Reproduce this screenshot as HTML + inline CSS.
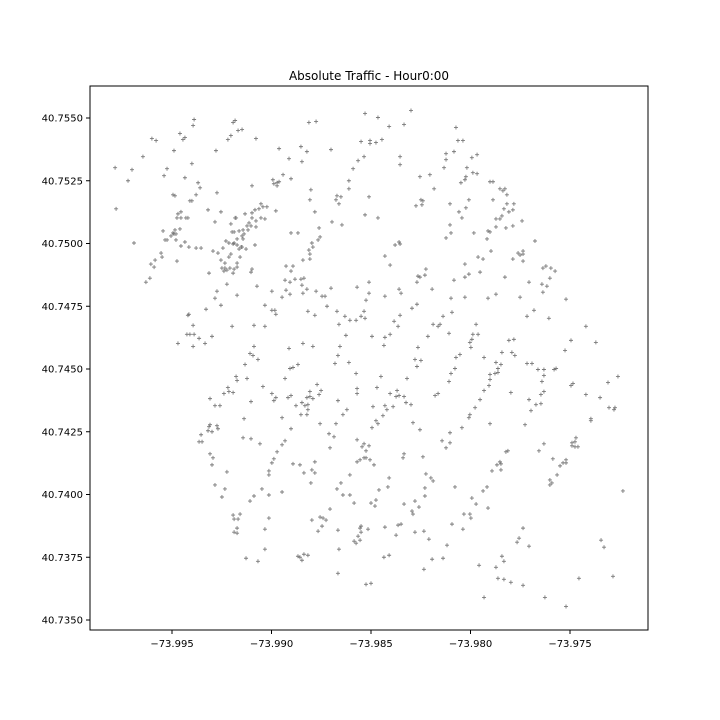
<!DOCTYPE html>
<html><head><meta charset="utf-8"><style>
html,body{margin:0;padding:0;background:#fff}
svg{display:block}
text{font-family:"DejaVu Sans","Liberation Sans",sans-serif;fill:#000}
</style></head><body>
<svg id="chart" width="720" height="720" viewBox="0 0 720 720" xmlns="http://www.w3.org/2000/svg">
<rect width="720" height="720" fill="#fff"/>
<text x="369" y="80" font-size="12" text-anchor="middle">Absolute Traffic - Hour0:00</text>
<g id="points"></g>
<g id="axes"></g>
</svg>
<script>
// longitude offsets in milli-degrees east of -74.000
const lonOffsets = [14.70,6.11,6.06,8.17,8.07,8.32,8.52,5.40,3.99,4.20,5.55,5.65,7.81,7.96,9.22,11.88,12.24,7.21,5.10,3.54,10.38,11.48,11.78,11.53,10.88,12.99,14.50,14.65,14.35,14.10,2.14,2.99,4.75,6.00,4.60,2.79,5.65,6.31,6.41,10.58,10.98,10.07,10.28,10.38,10.12,10.28,9.02,13.89,13.89,7.26,6.21,5.05,5.15,5.90,6.00,2.19,6.81,7.46,11.98,11.93,13.29,13.49,13.24,13.39,14.90,12.18,14.70,10.22,
9.47,9.57,9.77,9.37,9.17,9.02,8.67,9.02,9.47,9.67,8.17,8.22,8.87,9.22,8.97,8.77,9.22,8.82,8.57,8.02,8.12,8.37,8.62,8.52,8.27,8.57,7.96,7.71,7.86,8.12,8.27,8.07,8.47,8.52,8.37,8.72,7.96,7.86,8.42,7.56,7.31,7.16,7.46,7.66,7.66,7.51,7.76,7.91,8.12,8.27,8.07,7.61,7.06,8.27,9.17,
5.45,5.30,5.45,5.70,5.80,5.25,4.55,5.15,5.40,5.05,5.10,4.95,5.20,4.65,4.75,5.20,5.65,5.45,5.85,6.21,6.46,3.09,4.45,4.50,4.15,5.25,3.94,4.10,3.89,3.69,6.86,9.02,8.97,7.76,7.26,7.16,8.27,9.27,7.46,6.71,5.85,5.80,6.06,5.75,5.90,6.11,6.36,7.01,5.30,6.06,6.66,8.02,9.12,9.67,9.12,8.92,9.07,9.67,10.02,10.17,10.22,10.02,10.53,10.73,11.08,10.98,10.68,10.93,11.18,11.48,11.63,11.53,10.73,10.93,11.58,11.78,12.24,12.54,12.69,12.99,12.79,11.83,12.18,10.98,11.33,12.39,12.44,12.34,12.03,12.08,11.88,11.93,11.93,11.58,13.04,13.54,13.29,13.69,13.39,13.94,14.25,14.50,14.70,14.65,14.30,14.75,14.90,10.88,11.58,12.08,13.74,13.44,13.34,
17.01,15.35,15.91,16.66,19.27,14.95,14.95,15.25,15.55,19.37,19.62,16.46,16.46,18.77,18.77,19.17,18.67,20.07,20.33,19.82,20.12,20.33,19.77,19.72,19.52,17.46,17.96,18.17,15.35,17.51,17.61,17.56,17.26,18.97,19.92,19.77,19.42,19.57,20.98,21.13,21.48,21.63,21.73,21.83,21.13,21.83,22.18,21.68,22.13,21.93,21.58,21.28,21.48,21.28,21.78,22.13,22.59,18.97,19.02,18.77,20.17,20.88,20.98,20.83,21.03,23.24,16.21,16.46,16.41,15.70,15.96,20.38,20.63,19.72,22.39,22.64,22.49,22.64,22.13,22.64,23.64,23.79,24.04,24.25,23.99,22.94,23.59,23.84,23.64,24.80,21.73,17.76,17.36,17.46,17.71,17.31,19.17,19.72,19.92,20.48,14.90,16.41,16.51,15.70,18.07,19.02,19.72,20.88,21.28,22.49,17.31,17.06,16.46,16.16,16.36,15.05,15.70,15.96,15.65,17.36,17.86,18.12,18.37,18.47,18.62,19.07,18.92,20.28,20.12,20.38,20.07,19.97,20.02,19.27,19.47,20.68,21.58,22.08,22.23,21.93,22.18,22.84,23.19,23.94,24.75,25.05,25.80,26.30,
8.67,9.32,8.22,8.27,8.77,7.81,7.86,7.61,8.07,6.91,7.16,7.41,8.97,9.57,8.62,6.91,6.86,7.26,7.31,6.81,7.01,6.46,6.36,6.51,8.57,8.97,9.42,6.91,7.06,7.01,7.76,7.16,7.66,7.51,8.92,9.12,9.52,9.87,10.53,9.87,9.87,10.02,10.12,10.28,10.53,10.68,10.98,10.53,10.02,10.12,10.22,10.68,10.93,11.08,11.33,10.83,10.98,11.23,11.53,11.68,11.78,11.83,11.93,11.93,12.08,12.29,12.49,12.39,11.83,11.78,11.48,12.44,13.19,13.89,14.25,14.30,14.30,13.34,13.79,13.59,13.24,12.89,13.14,12.94,14.30,14.65,14.55,14.75,14.65,14.75,14.30,14.45,11.08,11.43,11.63,12.03,12.18,11.98,12.18,13.94,13.49,13.29,13.59,13.94,14.15,12.94,12.44,12.59,12.74,12.03,12.54,12.34,13.34,14.50,14.45,14.50,14.85,14.35,14.15,14.25,14.45,13.39,13.34,14.75,8.07,8.12,8.32,8.42,8.27,8.12,8.27,9.87,9.67,9.67,8.72,9.32,11.33,11.43,11.53,11.63,11.83,
17.21,17.51,17.31,21.28,21.38,21.53,21.38,21.23,20.98,20.98,20.93,20.68,22.84,23.09,23.39,23.69,23.69,23.59,23.69,23.54,23.29,23.54,22.94,23.04,24.20,24.30,25.05,25.15,25.80,26.51,26.91,27.41,26.96,27.26,27.21,26.05,26.05,19.22,18.92,19.02,16.81,15.50,15.30,16.31,15.96,16.41,16.26,16.66,16.76,17.01,15.10,15.70,15.80,16.11,15.60,15.25,15.35,15.05,17.11,17.46,18.22,18.37,20.48,20.23,19.97,19.92,19.57,20.98,22.03,22.74,18.97,18.57,18.97,18.77,14.90,14.95,15.15,16.66,16.61,17.61,17.76,18.01,18.12,15.91,15.85,15.40,15.25,15.00,15.20,16.66,17.21,17.41,17.06,17.11,17.71,17.71,19.22,21.78,21.88,21.48,21.53,21.33,21.53,21.08,20.83,20.63,20.07,20.28,20.88,19.67,19.97,20.02,23.69,23.44,24.14,24.35,24.50,24.65,24.80,24.80,23.99,24.09,23.99,25.10,25.10,25.25,25.30,25.25,25.40,27.66,15.70,16.36,16.51,16.26,17.21,17.66,17.91,15.65,15.91,18.07,18.62,18.82,19.07,19.62,17.66,15.00,20.43,21.28,21.58,21.68,21.38,21.68,22.03,22.64,22.64,22.44,22.34,22.94,20.68,23.74,24.80,25.45,26.56,26.71,27.16];
// latitude offsets in milli-degrees north of 40.700
const latOffsets = [55.18,54.94,54.70,54.90,54.82,54.50,54.54,54.38,54.18,54.10,54.14,54.22,54.14,54.30,54.18,54.82,54.86,53.70,53.70,53.46,53.78,53.86,53.66,53.26,53.38,53.74,54.06,53.46,53.30,52.98,53.02,52.94,52.98,53.18,52.70,52.50,52.62,52.42,52.22,52.74,52.58,52.54,52.42,52.46,52.38,52.30,52.30,52.50,52.18,52.02,51.94,51.94,51.90,51.70,51.70,51.38,51.34,51.26,52.14,51.74,51.90,51.86,51.74,51.58,51.86,51.26,51.14,51.30,
51.58,51.46,51.46,51.38,51.34,51.22,51.18,51.02,51.02,50.98,51.02,51.02,50.82,50.90,50.70,50.70,50.66,50.54,50.54,50.46,50.46,50.50,50.38,50.30,50.18,50.18,50.78,50.10,50.02,50.02,49.94,49.98,49.86,49.86,49.78,49.78,49.58,49.46,49.46,49.82,49.62,50.86,49.34,49.22,49.02,49.02,48.94,49.02,48.98,49.06,48.82,48.90,49.70,49.22,49.94,
51.26,51.18,51.02,51.02,51.02,51.02,50.50,50.54,50.58,50.42,50.38,50.30,50.38,50.14,50.14,50.14,50.06,49.90,49.86,49.82,49.82,50.02,49.62,49.46,49.34,49.30,49.18,49.06,48.62,48.46,48.82,48.98,48.86,48.38,48.10,47.82,47.94,48.30,47.54,47.38,47.18,47.14,46.74,46.38,46.38,46.38,46.22,46.30,46.02,45.90,46.02,46.70,46.74,46.70,45.90,45.62,45.54,47.54,47.34,47.34,47.18,48.10,47.86,49.10,49.10,48.90,48.54,48.46,48.58,48.58,48.62,48.34,48.14,47.98,48.02,48.18,48.10,47.90,47.90,48.22,47.50,47.30,47.14,50.42,50.42,50.62,50.26,50.14,50.02,49.86,49.74,49.58,49.38,49.34,50.86,50.74,47.30,47.10,46.78,46.94,46.94,47.10,47.02,47.30,48.26,47.74,48.02,45.82,46.02,45.90,46.34,45.90,45.54,
55.30,55.02,54.66,54.74,54.62,54.10,53.98,54.02,54.14,54.10,54.10,53.46,53.14,53.58,53.34,53.66,53.02,53.42,53.54,53.02,52.82,52.78,52.66,52.54,52.42,52.66,52.74,52.18,51.02,51.74,51.70,51.54,51.50,51.58,51.74,51.42,51.26,51.02,52.46,52.46,52.18,52.10,52.18,51.94,51.74,51.58,51.58,51.38,51.34,51.26,51.10,50.98,50.98,50.66,50.62,50.70,50.90,50.74,50.42,50.22,50.42,50.50,50.46,50.18,49.70,50.10,49.94,49.98,50.06,49.50,49.14,49.46,49.38,49.18,49.62,49.58,49.54,49.70,49.38,49.30,49.02,49.10,49.02,48.90,48.62,48.46,48.38,48.30,48.06,47.78,48.66,48.98,48.70,48.66,48.74,48.46,48.54,48.66,48.78,48.86,48.46,48.18,48.02,47.90,48.18,47.82,47.86,47.82,47.98,47.86,47.58,47.42,47.14,46.90,46.70,46.30,46.26,46.38,45.94,45.86,46.30,46.78,46.70,46.78,47.10,47.26,46.42,46.78,46.38,46.38,46.18,46.06,45.86,45.46,45.58,45.46,45.66,45.66,45.54,46.14,46.18,47.10,47.34,47.02,45.74,46.14,46.70,46.06,
45.18,45.38,44.70,44.54,44.62,44.26,44.10,44.02,44.06,43.82,43.54,43.54,43.70,44.30,43.02,42.78,42.70,42.74,42.62,42.54,42.50,42.38,42.10,42.10,42.26,42.22,42.02,41.62,41.46,41.18,40.90,40.38,40.22,39.90,39.74,39.94,40.22,39.98,40.10,40.94,40.78,41.26,41.42,41.70,41.98,42.14,42.62,43.06,44.02,43.74,43.86,44.62,45.02,45.06,45.18,43.86,43.94,43.54,43.66,43.54,43.86,43.58,44.10,43.90,43.82,44.38,44.14,43.98,43.38,43.18,43.18,42.82,45.22,45.26,44.82,44.22,44.02,43.74,43.38,43.18,42.82,42.42,42.30,41.86,42.18,42.02,41.90,41.74,41.46,41.46,41.30,41.38,41.22,41.18,40.86,40.98,41.30,40.46,40.86,40.78,40.46,40.22,39.98,39.98,39.66,39.42,39.10,39.06,38.98,38.98,38.74,38.54,38.58,38.74,38.66,38.50,38.62,38.34,38.14,38.06,38.18,37.82,36.86,36.42,39.18,39.02,39.02,39.22,38.66,38.50,38.46,39.06,38.62,37.82,37.46,37.34,37.54,37.50,37.38,37.62,37.58,
45.38,45.34,45.10,45.26,45.02,45.18,44.86,44.82,44.78,44.58,44.34,44.14,45.22,45.22,44.98,44.98,44.74,44.50,44.10,43.98,43.58,43.62,43.78,43.34,44.98,45.02,44.34,44.42,43.98,43.86,44.46,44.70,43.46,43.46,43.38,43.02,42.94,45.02,44.50,44.82,44.62,44.70,44.26,44.14,44.02,43.94,43.90,43.90,43.66,43.58,43.50,43.54,43.38,43.50,43.14,42.94,42.82,42.66,42.86,42.58,43.94,44.02,43.78,43.46,43.18,43.06,42.66,42.82,44.06,42.78,42.46,42.14,42.06,41.86,41.94,41.38,41.18,41.62,41.46,41.50,40.82,40.66,40.54,40.66,40.30,40.18,39.78,39.66,39.54,39.62,39.74,39.50,39.34,39.22,40.26,39.94,40.30,41.70,41.74,41.30,41.22,41.18,40.98,40.94,40.30,40.14,39.86,39.62,39.46,39.22,39.22,39.06,42.02,41.74,41.42,40.78,41.14,41.26,41.38,41.26,40.58,40.46,40.38,42.06,41.94,42.10,42.26,41.90,41.90,40.14,38.70,38.78,38.82,38.38,38.50,38.54,38.22,37.50,37.58,37.42,37.46,37.98,38.82,38.62,37.02,36.46,37.18,37.10,37.54,37.34,36.66,36.62,36.50,36.38,38.66,38.26,38.10,37.94,35.90,35.90,35.54,36.66,38.18,37.90,36.74];
const xTickValues = [-73.995,-73.990,-73.985,-73.980,-73.975];
const xTickLabels = ["\u221273.995","\u221273.990","\u221273.985","\u221273.980","\u221273.975"];
const yTickValues = [40.735,40.7375,40.74,40.7425,40.745,40.7475,40.75,40.7525,40.755];
const yTickLabels = ["40.7350","40.7375","40.7400","40.7425","40.7450","40.7475","40.7500","40.7525","40.7550"];

const NS='http://www.w3.org/2000/svg';
const L=90,R=648,T=86,B=630;
function xScale(lon){return 172+(lon+73.995)*19900;}
function yScale(lat){return 118+(40.755-lat)*25100;}
const pts=document.getElementById('points');
const n=Math.min(lonOffsets.length,latOffsets.length);
for(let i=0;i<n;i++){
  const lon=-74+lonOffsets[i]/1000, lat=40.7+latOffsets[i]/1000;
  const x=xScale(lon), y=yScale(lat);
  const p=document.createElementNS(NS,'path');
  p.setAttribute('d',`M${x-2},${y}H${x+2}M${x},${y-2}V${y+2}`);
  p.setAttribute('stroke','#7a7a7a');p.setAttribute('stroke-width','0.9');
  
  
  pts.appendChild(p);
}
const ax=document.getElementById('axes');
const frame=document.createElementNS(NS,'rect');
frame.setAttribute('x',L);frame.setAttribute('y',T);frame.setAttribute('width',R-L);frame.setAttribute('height',B-T);
frame.setAttribute('fill','none');frame.setAttribute('stroke','#000');frame.setAttribute('stroke-width','1');


ax.appendChild(frame);
xTickValues.forEach((v,i)=>{
  const x=xScale(v);
  const t=document.createElementNS(NS,'line');
  t.setAttribute('x1',x);t.setAttribute('x2',x);t.setAttribute('y1',B);t.setAttribute('y2',B+4);t.setAttribute('stroke','#000');
  
  
  ax.appendChild(t);
  const tx=document.createElementNS(NS,'text');
  tx.setAttribute('x',x);tx.setAttribute('y',B+17);tx.setAttribute('font-size','10');tx.setAttribute('text-anchor','middle');
  tx.textContent=xTickLabels[i];
  
  
  ax.appendChild(tx);
});
yTickValues.forEach((v,i)=>{
  const y=yScale(v);
  const t=document.createElementNS(NS,'line');
  t.setAttribute('x1',L-4);t.setAttribute('x2',L);t.setAttribute('y1',y);t.setAttribute('y2',y);t.setAttribute('stroke','#000');
  
  
  ax.appendChild(t);
  const tx=document.createElementNS(NS,'text');
  tx.setAttribute('x',L-7);tx.setAttribute('y',y+3.5);tx.setAttribute('font-size','10');tx.setAttribute('text-anchor','end');
  tx.textContent=yTickLabels[i];
  
  
  ax.appendChild(tx);
});
</script>
</body></html>
